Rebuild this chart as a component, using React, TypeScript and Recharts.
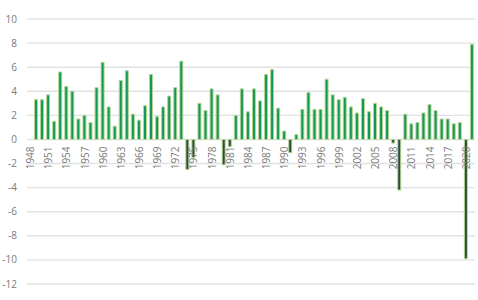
import React from "react";
import { BarChart, Bar, XAxis, YAxis, CartesianGrid, Cell } from "recharts";

// UK real GDP growth, % per year (1948 has no value)
const years: number[] = [];
for (let y = 1948; y <= 2021; y++) years.push(y);

const growth: (number | null)[] = [
  null, 3.3, 3.3, 3.7, 1.5, 5.6, 4.4, 4.0, 1.7, 2.0,
  1.4, 4.3, 6.4, 2.7, 1.1, 4.9, 5.7, 2.1, 1.6, 2.8,
  5.4, 1.9, 2.7, 3.6, 4.3, 6.5, -2.5, -1.5, 3.0, 2.4,
  4.2, 3.7, -2.1, -0.6, 2.0, 4.2, 2.3, 4.2, 3.2, 5.4,
  5.8, 2.6, 0.7, -1.1, 0.4, 2.5, 3.9, 2.5, 2.5, 5.0,
  3.7, 3.3, 3.5, 2.7, 2.2, 3.4, 2.3, 3.0, 2.7, 2.4,
  -0.3, -4.2, 2.1, 1.3, 1.4, 2.2, 2.9, 2.4, 1.7, 1.7,
  1.3, 1.4, -9.9, 7.9,
];

const yTicks = [-12, -10, -8, -6, -4, -2, 0, 2, 4, 6, 8, 10];

const chartData = years.map((year, i) => ({ year: String(year), value: growth[i] }));

const W = 478;
const H = 300;
const MARGIN = { top: 19, right: 3, bottom: 15, left: 0 };
const X_AXIS_H = 1;
const Y_MIN = -12;
const Y_MAX = 10;

// y pixel of the zero line, from the axis domain
const plotH = H - MARGIN.top - MARGIN.bottom - X_AXIS_H;
const zeroY = MARGIN.top + (plotH * Y_MAX) / (Y_MAX - Y_MIN);

const POS = "#14955b";
const NEG = "#2b4a3e";
const EDGE = "#b3d78f";
const TEXT = "#7a7a7a";

function YearTick(props: any) {
  const { x, payload } = props;
  const y = zeroY + 7;
  return (
    <text
      x={x}
      y={y}
      transform={`rotate(-90, ${x}, ${y})`}
      textAnchor="end"
      dominantBaseline="central"
      fontSize={10}
      fill={TEXT}
      fontFamily="'Open Sans', sans-serif"
    >
      {payload.value}
    </text>
  );
}

export default function App() {
  return (
    <div style={{ position: "absolute", left: 0, top: 0, width: W, height: H, background: "#fff" }}>
      <BarChart width={W} height={H} data={chartData} margin={MARGIN} barCategoryGap="24%">
        <CartesianGrid vertical={false} stroke="#e2e2e2" strokeWidth={1.4} />
        <XAxis
          dataKey="year"
          height={X_AXIS_H}
          axisLine={false}
          tickLine={false}
          interval={2}
          tick={<YearTick />}
        />
        <YAxis
          domain={[Y_MIN, Y_MAX]}
          ticks={yTicks}
          width={27}
          axisLine={false}
          tickLine={false}
          tickMargin={4}
          tick={{ fontSize: 10, fill: TEXT, fontFamily: "'Open Sans', sans-serif" }}
        />
        <Bar dataKey="value" isAnimationActive={false} stroke={EDGE} strokeWidth={1}>
          {chartData.map((d, i) => (
            <Cell key={i} fill={d.value !== null && d.value < 0 ? NEG : POS} />
          ))}
        </Bar>
      </BarChart>
    </div>
  );
}
